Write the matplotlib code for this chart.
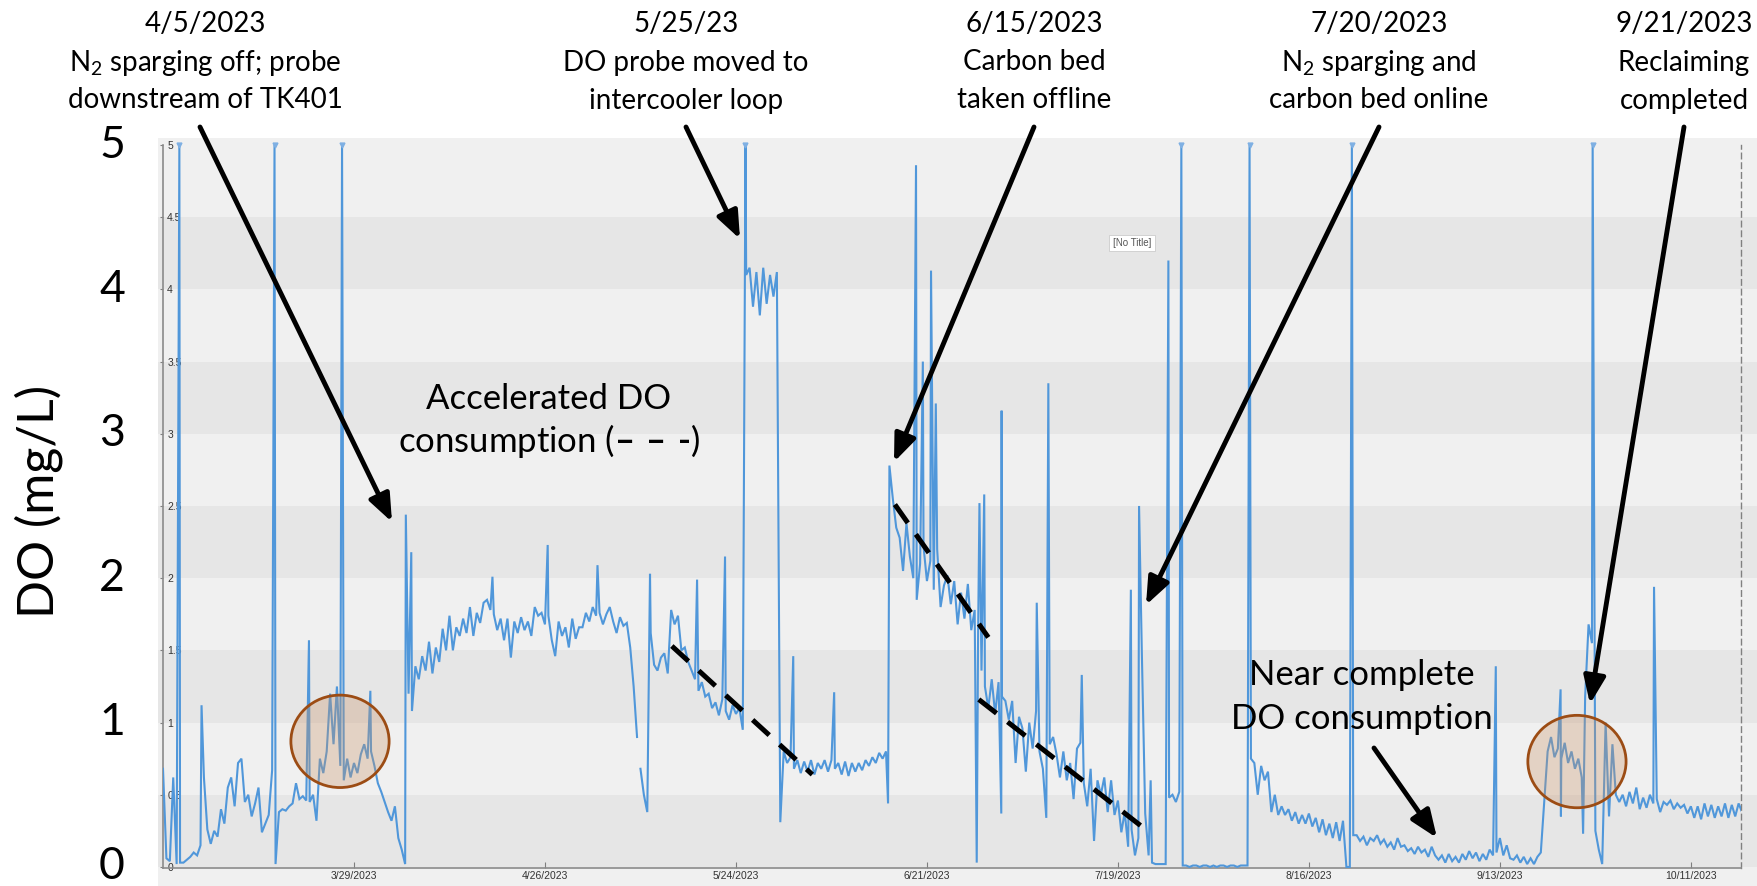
import numpy as np
import pandas as pd
import matplotlib
matplotlib.use('Agg')
import matplotlib.pyplot as plt
import matplotlib.transforms as mtransforms
import matplotlib.dates as mdates
from matplotlib.patches import Ellipse

# DO probe readings, one every 12 h from 3/1/2023
start = pd.Timestamp('2023-03-01')
do_values = [
    0.68, 0.06, 0.04, 0.62, 0.02, 0.03, 0.03, 0.05, 0.07, 0.10,
    0.08, 0.15, 0.62, 0.26, 0.16, 0.25, 0.21, 0.40, 0.30, 0.55,
    0.62, 0.42, 0.72, 0.75, 0.45, 0.50, 0.35, 0.44, 0.55, 0.24,
    0.30, 0.36, 0.67, 0.02, 0.38, 0.40, 0.39, 0.42, 0.44, 0.58,
    0.47, 0.49, 0.46, 0.45, 0.50, 0.32, 0.75, 0.65, 0.80, 1.20,
    0.85, 1.25, 0.70, 0.60, 0.75, 0.62, 0.72, 0.65, 0.78, 0.85,
    0.75, 0.80, 0.70, 0.58, 0.52, 0.45, 0.38, 0.32, 0.42, 0.20,
    0.12, 0.02, 1.20, 1.08, 1.39, 1.30, 1.46, 1.36, 1.56, 1.34,
    1.52, 1.42, 1.65, 1.50, 1.74, 1.50, 1.66, 1.60, 1.72, 1.62,
    1.80, 1.60, 1.76, 1.69, 1.83, 1.85, 1.78, 1.75, 1.64, 1.72,
    1.57, 1.72, 1.45, 1.70, 1.62, 1.73, 1.64, 1.70, 1.60, 1.80,
    1.74, 1.76, 1.68, 1.74, 1.57, 1.46, 1.70, 1.60, 1.66, 1.52,
    1.72, 1.58, 1.66, 1.66, 1.76, 1.70, 1.80, 1.74, 1.76, 1.68,
    1.75, 1.80, 1.70, 1.62, 1.73, 1.67, 1.69, 1.52, 1.25, 0.90,
    0.68, 0.50, 0.38, 1.62, 1.40, 1.36, 1.45, 1.48, 1.34, 1.78,
    1.68, 1.74, 1.50, 1.52, 1.42, 1.36, 1.30, 1.22, 1.28, 1.18,
    1.20, 1.10, 1.14, 1.05, 1.16, 1.08, 1.02, 1.12, 1.06, 1.10,
    0.95, 4.10, 4.15, 3.88, 4.12, 3.82, 4.15, 3.90, 4.10, 3.95,
    4.12, 0.31, 0.80, 0.72, 0.76, 0.68, 0.74, 0.65, 0.73, 0.66,
    0.74, 0.64, 0.72, 0.68, 0.74, 0.66, 0.74, 0.68, 0.72, 0.64,
    0.73, 0.63, 0.72, 0.66, 0.72, 0.67, 0.74, 0.70, 0.76, 0.72,
    0.79, 0.75, 0.80, 2.78, 2.55, 2.35, 2.28, 2.05, 2.38, 2.15,
    2.00, 1.85, 2.10, 2.22, 1.98, 2.12, 1.92, 2.20, 1.80, 1.95,
    2.02, 1.82, 1.98, 1.68, 1.90, 1.72, 1.96, 1.64, 1.78, 1.60,
    1.36, 1.25, 1.10, 1.30, 1.06, 1.28, 1.18, 1.15, 1.02, 1.15,
    0.72, 1.04, 0.96, 0.66, 1.00, 0.82, 1.08, 0.80, 0.68, 0.34,
    0.85, 0.90, 0.78, 0.62, 0.80, 0.60, 0.72, 0.47, 0.82, 0.86,
    0.58, 0.42, 0.68, 0.18, 0.60, 0.50, 0.62, 0.38, 0.60, 0.36,
    0.46, 0.24, 0.38, 0.14, 0.26, 0.08, 0.20, 1.50, 0.37, 0.08,
    0.03, 0.02, 0.02, 0.02, 0.02, 0.48, 0.50, 0.45, 0.52, 0.01,
    0.01, 0.00, 0.01, 0.01, 0.00, 0.01, 0.01, 0.00, 0.01, 0.00,
    0.01, 0.01, 0.00, 0.01, 0.01, 0.00, 0.01, 0.01, 0.01, 0.75,
    0.72, 0.50, 0.70, 0.60, 0.66, 0.38, 0.50, 0.36, 0.42, 0.36,
    0.40, 0.32, 0.38, 0.30, 0.36, 0.30, 0.37, 0.28, 0.34, 0.24,
    0.33, 0.22, 0.30, 0.20, 0.31, 0.18, 0.32, 0.00, 0.00, 0.22,
    0.22, 0.18, 0.21, 0.15, 0.20, 0.18, 0.22, 0.16, 0.19, 0.14,
    0.17, 0.12, 0.20, 0.14, 0.15, 0.11, 0.13, 0.09, 0.14, 0.10,
    0.12, 0.07, 0.14, 0.08, 0.05, 0.08, 0.03, 0.09, 0.04, 0.07,
    0.03, 0.09, 0.05, 0.11, 0.06, 0.10, 0.04, 0.09, 0.05, 0.12,
    0.08, 0.10, 0.20, 0.08, 0.15, 0.06, 0.05, 0.08, 0.03, 0.07,
    0.02, 0.06, 0.02, 0.07, 0.10, 0.45, 0.80, 0.90, 0.76, 0.82,
    0.75, 0.86, 0.72, 0.80, 0.68, 0.75, 0.62, 1.18, 1.68, 1.55,
    0.25, 0.12, 0.02, 1.00, 0.35, 0.85, 0.50, 0.45, 0.50, 0.42,
    0.52, 0.44, 0.55, 0.40, 0.48, 0.41, 0.50, 0.44, 0.47, 0.38,
    0.45, 0.43, 0.46, 0.40, 0.44, 0.41, 0.43, 0.37, 0.42, 0.34,
    0.42, 0.33, 0.44, 0.35, 0.43, 0.34, 0.42, 0.35, 0.44, 0.34,
    0.43, 0.35, 0.44, 0.38,
]

# short excursions between the 12 h readings (days after 3/1), nan = data gap
spike_days = [2.4, 5.65, 16.35, 21.4, 26.25, 30.4, 35.6, 36.4, 48.3, 56.4,
              63.7, 69.55, 71.4, 78.3, 82.4, 85.4, 92.4, 98.4, 106.3, 110.4,
              111.4, 112.6, 113.3, 119.3, 119.7, 120.4, 122.9, 122.95, 128.1, 129.8,
              134.7, 141.9, 143.1, 144.8, 147.4, 149.3, 159.3, 174.3, 195.4, 204.9,
              204.95, 208.2, 209.6, 218.6]
spike_vals = [5.0, 1.12, 5.0, 1.57, 5.0, 1.22, 2.44, 2.18, 2.01, 2.23,
              2.09, np.nan, 2.03, 1.99, 2.15, 5.0, 1.46, 1.21, 0.44, 4.86,
              3.50, 4.13, 3.21, 0.03, 2.52, 2.58, 0.37, 3.16, 1.83, 3.35,
              1.33, 1.92, 2.50, 0.60, 4.20, 5.0, 5.0, 5.0, 1.39, 1.23,
              0.35, 0.23, 5.0, 1.94]

tick_dates = pd.date_range('2023-03-29', periods=8, freq='28D')
y_ticks = np.arange(0, 5.01, 0.5)
big_y_labels = [0, 1, 2, 3, 4, 5]

# hand-drawn trend dashes: (start day, start DO, end day, end DO)
trend_lines = [(74.6, 1.53, 95.2, 0.64),
               (107.3, 2.51, 121.0, 1.59),
               (119.6, 1.16, 143.5, 0.28)]
# highlighted periods: (centre day, centre DO)
circle_days = [25.95, 207.3]
circle_do = [0.87, 0.73]

top_notes = [
    (205, ['4/5/2023', 'N$_\\mathregular{2}$ sparging off; probe', 'downstream of TK401']),
    (686, ['5/25/23', 'DO probe moved to', 'intercooler loop']),
    (1034, ['6/15/2023', 'Carbon bed', 'taken offline']),
    (1379, ['7/20/2023', 'N$_\\mathregular{2}$ sparging and', 'carbon bed online']),
    (1684, ['9/21/2023', 'Reclaiming', 'completed']),
]
mid_notes = [
    (549, [409, 452], ['Accelerated DO', 'consumption ($\\mathbf{\u2013\\ \u2013\\ \u2010}$)']),
    (1362, [685, 729], ['Near complete', 'DO consumption']),
]
# arrows in figure pixels, measured from the top-left corner: tail -> head
arrows = [((200, 127), (392, 522)),
          ((686, 127), (740, 239)),
          ((1034, 127), (894, 462)),
          ((1379, 127), (1146, 605)),
          ((1684, 127), (1590, 704)),
          ((1374, 748), (1437, 838))]

plt.rcParams['font.family'] = ['Lato', 'DejaVu Sans']
plt.rcParams['mathtext.fontset'] = 'custom'
plt.rcParams['mathtext.rm'] = 'Lato'
plt.rcParams['mathtext.bf'] = 'Lato:bold'

W, H = 1758, 886
fig = plt.figure(figsize=(W / 100, H / 100), dpi=100)
fig.patch.set_facecolor('white')


def fx(px):
    return px / W


def fy(py):
    return 1 - py / H


# chart area
ylim = (-0.01, 5.0)
ax_box = [fx(163), fy(868.4), fx(1741) - fx(163), fy(145) - fy(868.4)]

# grey panel with banded background behind the chart
bg_top = fy(138)
per = (ylim[1] - ylim[0]) / ax_box[3]
bg = fig.add_axes([fx(158), 0, 1 - fx(158), bg_top], zorder=0)
bg.set_ylim(ylim[0] - ax_box[1] * per, ylim[0] + (bg_top - ax_box[1]) * per)
bg.set_xlim(0, 1)
bg.set_facecolor('#f0f0f0')
for k in range(0, 10, 2):
    bg.axhspan(k * 0.5, k * 0.5 + 0.5, color='#e6e6e6', lw=0)
bg.set_xticks([])
bg.set_yticks([])
for sp in bg.spines.values():
    sp.set_visible(False)

ax = fig.add_axes(ax_box, zorder=1)
ax.set_facecolor('none')

t_reg = start + pd.to_timedelta(np.arange(len(do_values)) * 0.5, unit='D')
t_spk = start + pd.to_timedelta(spike_days, unit='D')
series = pd.Series(list(do_values) + list(spike_vals),
                   index=t_reg.append(t_spk)).sort_index()

ax.plot(series.index, series.values, color='#5097da', lw=1.5, zorder=3,
        solid_joinstyle='miter')
tops = series[series >= 5]
ax.plot(tops.index, tops.values, 'v', ms=3.5, color='#7fb0e3', clip_on=False, zorder=3)

ax.set_xlim(start, start + pd.Timedelta(days=231.35))
ax.set_ylim(*ylim)

ax.set_xticks(tick_dates)
ax.set_xticklabels([f'{d.month}/{d.day}/{d.year}' for d in tick_dates])
ax.set_yticks(y_ticks)
ax.set_yticklabels([f'{v:g}' for v in y_ticks])
ax.tick_params(axis='x', direction='in', length=4, width=0.8, colors='#7f7f7f',
               labelcolor='#333333', labelsize=7.5, pad=2,
               labelfontfamily='Liberation Sans')
ax.tick_params(axis='y', direction='out', length=2.5, width=0.8, colors='#7f7f7f',
               labelcolor='#333333', labelsize=7.5, pad=-5.5,
               labelfontfamily='Liberation Sans')
for lbl in ax.get_yticklabels():
    lbl.set_horizontalalignment('left')

ax.spines['top'].set_visible(False)
ax.spines['right'].set_linestyle((0, (4, 3)))
ax.spines['right'].set_color('#808080')
ax.spines['right'].set_linewidth(1)
for side in ('left', 'bottom'):
    ax.spines[side].set_color('#8a8a8a')
    ax.spines[side].set_linewidth(1.2)

# dashed trend markers
for d0, v0, d1, v1 in trend_lines:
    ax.plot([start + pd.Timedelta(days=d0), start + pd.Timedelta(days=d1)], [v0, v1],
            color='black', lw=3.6, ls=(0, (4.5, 2.8)), solid_capstyle='butt',
            dash_capstyle='butt', zorder=5)

# shaded circles around the reclaiming periods
for d, v in zip(circle_days, circle_do):
    cx = mdates.date2num(start + pd.Timedelta(days=d))
    ax.add_patch(Ellipse((cx, v), width=14.4, height=0.64, facecolor='#c8956a',
                         alpha=0.32, edgecolor='none', zorder=4))
    ax.add_patch(Ellipse((cx, v), width=14.4, height=0.64, facecolor='none',
                         edgecolor='#9c4c14', lw=2, zorder=4))

# large axis numbers and title on the left
trans = mtransforms.blended_transform_factory(fig.transFigure, ax.transData)
for v in big_y_labels:
    ax.text(fx(112), v, str(v), transform=trans, ha='center', va='center',
            fontsize=32, color='black', clip_on=False)
fig.text(fx(39), fy(501), 'DO (mg/L)', rotation=90, ha='center', va='center',
         fontsize=36, color='black')

fig.text(fx(1132), fy(243), '[No Title]', ha='center', va='center', fontsize=7,
         family='Liberation Sans', color='#555555',
         bbox=dict(boxstyle='square,pad=0.35', fc='white', ec='#cccccc', lw=0.6))

for cx, lines in top_notes:
    for base, line in zip([32.5, 70.5, 108.5], lines):
        fig.text(fx(cx), fy(base), line, ha='center', va='baseline', fontsize=20)

for cx, bases, lines in mid_notes:
    for base, line in zip(bases, lines):
        fig.text(fx(cx), fy(base), line, ha='center', va='baseline', fontsize=25)

for (tx, ty), (hx, hy) in arrows:
    ax.annotate('', xy=(hx, H - hy), xytext=(tx, H - ty),
                xycoords='figure pixels', textcoords='figure pixels',
                arrowprops=dict(arrowstyle='-|>,head_length=0.55,head_width=0.22',
                                color='black', lw=3.5, mutation_scale=30,
                                shrinkA=0, shrinkB=0),
                annotation_clip=False, zorder=6)

fig.savefig('out.png', dpi=100)
